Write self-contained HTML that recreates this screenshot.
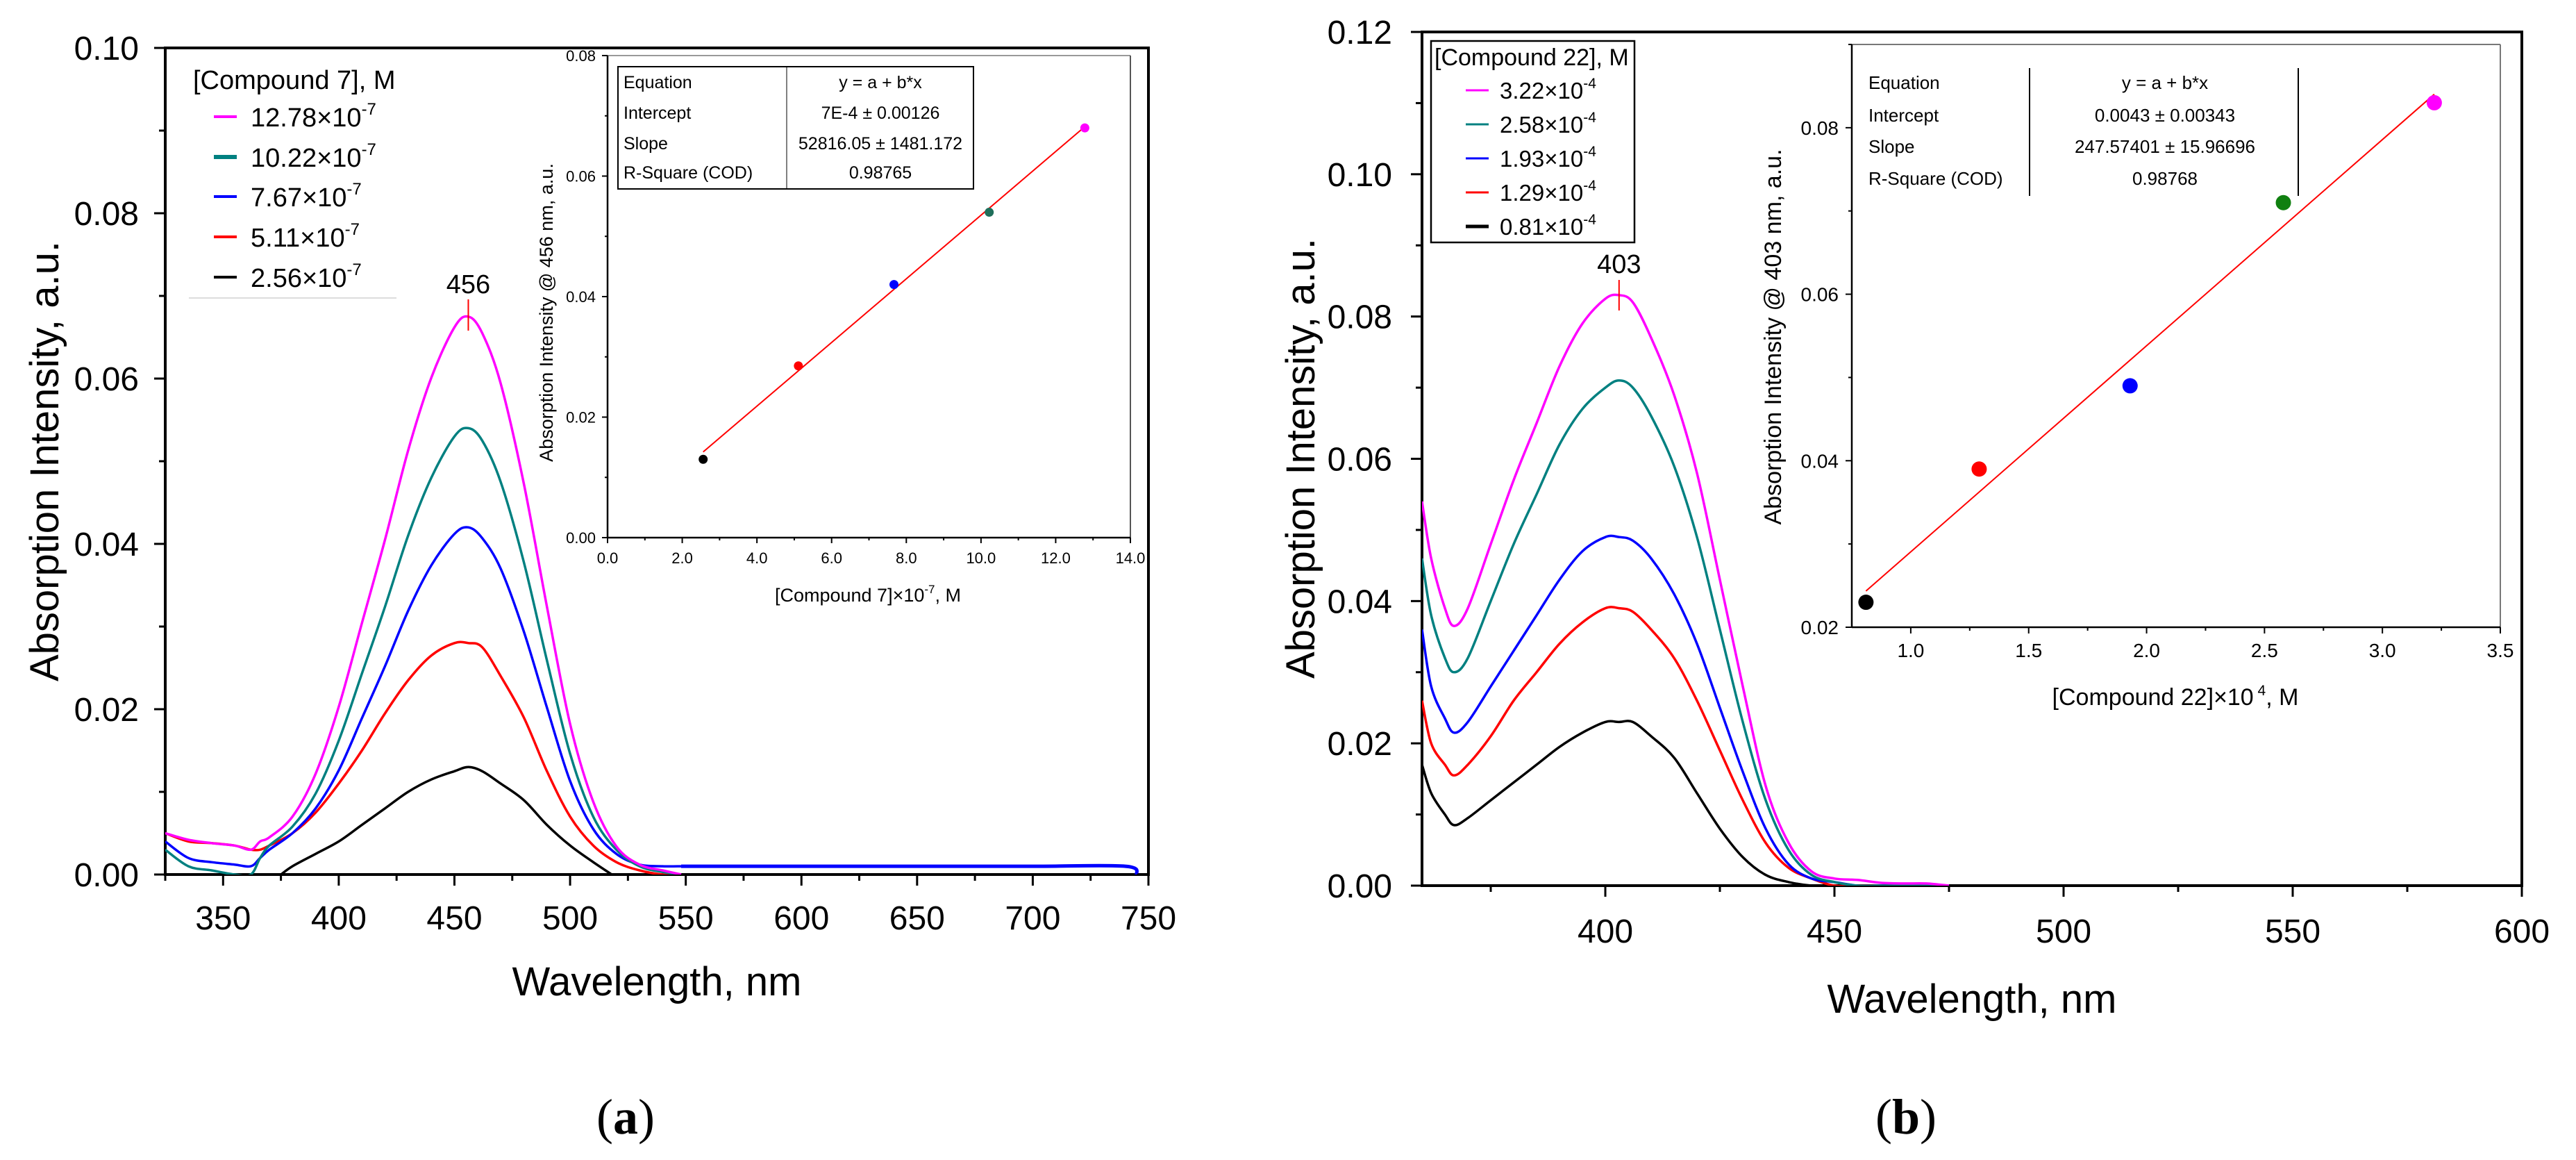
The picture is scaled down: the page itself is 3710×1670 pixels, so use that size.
<!DOCTYPE html>
<html><head><meta charset="utf-8"><style>
body{margin:0;background:#fff}
svg{display:block;font-family:"Liberation Sans",sans-serif}
</style></head><body>
<svg id="fig" width="3710" height="1670" viewBox="0 0 3710 1670" xmlns="http://www.w3.org/2000/svg">
<defs>
<clipPath id="clipA"><rect x="238" y="69" width="1416" height="1190"/></clipPath>
<clipPath id="clipB"><rect x="2048" y="46" width="1584" height="1229"/></clipPath>
</defs>
<g id="root"></g>
</svg>
<script>
// ---------- Panel (a) data ----------
const aWl = [325,335,345,355,362,366,370,380,390,400,410,420,430,440,450,456,462,470,480,490,500,510,520,530,540,548];
const aMagenta = [0.005,0.0042,0.0038,0.0035,0.003,0.004,0.0045,0.007,0.0122,0.0203,0.0304,0.0405,0.0513,0.0601,0.0662,0.0675,0.0655,0.0594,0.0473,0.0324,0.0182,0.0088,0.0034,0.0012,0.0005,0];
const aTeal = [0.003,0.001,0.0005,0,0,0.002,0.0035,0.0058,0.0098,0.0162,0.0243,0.0324,0.041,0.048,0.053,0.054,0.0525,0.0475,0.0378,0.0259,0.0146,0.007,0.003,0.001,0.0003,0];
const aBlue = [0.004,0.002,0.0015,0.0012,0.001,0.002,0.003,0.005,0.008,0.0126,0.0189,0.0252,0.0319,0.0374,0.0412,0.042,0.0407,0.037,0.0294,0.0202,0.0113,0.0055,0.0025,0.0012,0.001,0.001];
const aBlueTailWl = [548,600,650,700,740,745];
const aBlueTail = [0.001,0.001,0.001,0.001,0.001,0];
const aRed = [0.005,0.004,0.0038,0.0035,0.003,0.003,0.0035,0.005,0.0075,0.011,0.015,0.0195,0.0235,0.0265,0.028,0.028,0.0275,0.024,0.019,0.0125,0.007,0.0035,0.0015,0.0005,0,0];
const aBlackWl = [375,380,390,400,410,420,430,440,450,456,462,470,480,490,500,510,518];
const aBlack = [0,0.001,0.0025,0.004,0.006,0.008,0.01,0.0115,0.0125,0.013,0.0125,0.011,0.009,0.006,0.0035,0.0015,0];
const aXTicks = [350,400,450,500,550,600,650,700,750];
const aYTicks = [0,0.02,0.04,0.06,0.08,0.10];
const aLegend = ["12.78","10.22","7.67","5.11","2.56"];
// inset a
const aiConc = [2.56,5.11,7.67,10.22,12.78];
const aiAbs = [0.0130,0.0285,0.0420,0.0540,0.0680];
const aiFit = [0.0007,0.0052816];
const aiXTicks = [0,2,4,6,8,10,12,14];
const aiYTicks = [0,0.02,0.04,0.06,0.08];

// ---------- Panel (b) data ----------
const bWl = [360,362,365,367,370,375,380,385,390,395,400,403,406,410,415,420,425,430,435,440,445,450,455,460,465,470,475];
const bMagenta = [0.054,0.046,0.039,0.0365,0.039,0.048,0.057,0.065,0.073,0.079,0.0825,0.083,0.082,0.077,0.069,0.058,0.043,0.028,0.014,0.006,0.002,0.001,0.0008,0.0004,0.0003,0.0003,0];
const bTeal = [0.046,0.038,0.032,0.030,0.032,0.040,0.048,0.055,0.062,0.067,0.070,0.071,0.070,0.066,0.059,0.049,0.036,0.023,0.012,0.005,0.0015,0.0005,0,0,0,0,0];
const bBlue = [0.036,0.028,0.0235,0.0215,0.023,0.028,0.033,0.038,0.043,0.047,0.049,0.049,0.0485,0.046,0.041,0.034,0.025,0.016,0.008,0.003,0.001,0.0005,0,0,0,0,0];
const bRed = [0.026,0.020,0.017,0.0155,0.017,0.021,0.026,0.030,0.034,0.037,0.039,0.039,0.0385,0.036,0.032,0.026,0.019,0.012,0.006,0.0025,0.001,0,0,0,0,0,0];
const bBlack = [0.017,0.013,0.010,0.0085,0.0095,0.012,0.0145,0.017,0.0195,0.0215,0.023,0.023,0.023,0.021,0.018,0.013,0.008,0.004,0.0015,0.0005,0,0,0,0,0,0,0];
const bXTicks = [400,450,500,550,600];
const bYTicks = [0,0.02,0.04,0.06,0.08,0.10,0.12];
const bLegend = ["3.22","2.58","1.93","1.29","0.81"];
// inset b
const biConc = [0.81,1.29,1.93,2.58,3.22];
const biAbs = [0.023,0.039,0.049,0.071,0.083];
const biFit = [0.0043,0.0247574];
const biXTicks = [1.0,1.5,2.0,2.5,3.0,3.5];
const biYTicks = [0.02,0.04,0.06,0.08];

const NS = "http://www.w3.org/2000/svg";
const root = document.getElementById('root');
function el(tag, attrs, parent, text){
  const e = document.createElementNS(NS, tag);
  for (const k in attrs) e.setAttribute(k, attrs[k]);
  if (text !== undefined) e.textContent = text;
  (parent || root).appendChild(e);
  return e;
}
function lin(d0,d1,r0,r1){ return v => r0 + (v-d0)/(d1-d0)*(r1-r0); }

const COLORS = ["#ff00ff","#008080","#0000ff","#ff0000","#000000"];

function pathFrom(xs, ys, X, Y){
  const P = xs.map((x,i)=>[X(x),Y(ys[i])]);
  let d = 'M'+P[0][0].toFixed(1)+','+P[0][1].toFixed(1);
  for (let i=0;i<P.length-1;i++){
    const p0=P[Math.max(i-1,0)], p1=P[i], p2=P[i+1], p3=P[Math.min(i+2,P.length-1)];
    const c1=[p1[0]+(p2[0]-p0[0])/6, p1[1]+(p2[1]-p0[1])/6];
    const c2=[p2[0]-(p3[0]-p1[0])/6, p2[1]-(p3[1]-p1[1])/6];
    d += ' C'+c1[0].toFixed(1)+','+c1[1].toFixed(1)+' '+c2[0].toFixed(1)+','+c2[1].toFixed(1)+' '+p2[0].toFixed(1)+','+p2[1].toFixed(1);
  }
  return d;
}

// ================= PANEL A =================
const aX = lin(325,750,238,1654), aY = lin(0,0.1,1259,69);
const gA = el('g',{});


const frA = el('rect',{x:238,y:69,width:1416,height:1190,fill:'none',stroke:'#000','stroke-width':4},gA);


for (let w=325; w<=750; w+=25){
  const major = aXTicks.includes(w);
  el('line',{x1:aX(w),x2:aX(w),y1:1259,y2:1259+(major?16:9),stroke:'#000','stroke-width':3},gA);
}
aXTicks.forEach(t=>{
  const tx = el('text',{x:aX(t),y:1338,'font-size':48,'text-anchor':'middle'},gA,String(t));
  
  
});
for (let i=0;i<=10;i++){
  const v=i*0.01, major=i%2===0;
  el('line',{x1:238,x2:238-(major?16:9),y1:aY(v),y2:aY(v),stroke:'#000','stroke-width':3},gA);
}
aYTicks.forEach(t=>{
  const ty = el('text',{x:200,y:aY(t)+17,'font-size':48,'text-anchor':'end'},gA,t.toFixed(2));
  
  
});
const xtA = el('text',{x:946,y:1433,'font-size':58,'text-anchor':'middle'},gA,'Wavelength, nm');


const ytA = el('text',{x:0,y:0,'font-size':58,'text-anchor':'middle',transform:'translate(84,664) rotate(-90)'},gA,'Absorption Intensity, a.u.');



const aSeries = [aBlack,aRed,aBlue,aTeal,aMagenta];
const aNames = ['2.56','5.11','7.67','10.22','12.78'];
const aCols = ["#000000","#ff0000","#0000ff","#008080","#ff00ff"];
const cA = el('g',{'clip-path':'url(#clipA)'},gA);
aSeries.forEach((s,i)=>{
  const xs = s===aBlack ? aBlackWl : aWl;
  const p = el('path',{d:pathFrom(xs,s,aX,aY),fill:'none',stroke:aCols[i],'stroke-width':3.5,'stroke-linejoin':'round'},cA);
  
  
});
const tail = el('path',{d:pathFrom(aBlueTailWl,aBlueTail,aX,aY),fill:'none',stroke:'#0000ff','stroke-width':5},cA);


el('line',{x1:aX(456),x2:aX(456),y1:431,y2:476,stroke:'#ff0000','stroke-width':2},gA);
const pkA = el('text',{x:aX(456),y:422,'font-size':38,'text-anchor':'middle'},gA,'456');


const lgA = el('g',{},gA);


el('text',{x:278,y:128,'font-size':38},lgA,'[Compound 7], M');
const aLy = [168,226,283,341,399];
aLegend.forEach((lab,i)=>{
  const g = el('g',{},lgA);
  
  
  el('line',{x1:308,x2:341,y1:aLy[i],y2:aLy[i],stroke:COLORS[i],'stroke-width':i===1?6:4},g);
  const t = el('text',{x:361,y:aLy[i]+14,'font-size':38},g,lab+'×10');
  el('tspan',{'font-size':24,dy:-17},t,'-7');
});
el('line',{x1:272,x2:571,y1:429,y2:429,stroke:'#ddd','stroke-width':2},lgA);

// inset a
const iaX = lin(0,14,875,1628), iaY = lin(0,0.08,774,80);
const gIA = el('g',{},gA);


el('line',{x1:875,x2:1628,y1:80,y2:80,stroke:'#999','stroke-width':2},gIA);
el('line',{x1:1628,x2:1628,y1:80,y2:774,stroke:'#555','stroke-width':2},gIA);
el('line',{x1:875,x2:1628,y1:774,y2:774,stroke:'#000','stroke-width':2.5},gIA);
el('line',{x1:875,x2:875,y1:80,y2:774,stroke:'#000','stroke-width':2.5},gIA);
for (let v=0; v<=14.01; v+=1){
  const major = Math.round(v)%2===0;
  el('line',{x1:iaX(v),x2:iaX(v),y1:774,y2:774+(major?8:4),stroke:'#000','stroke-width':2},gIA);
}
aiXTicks.forEach(t=>el('text',{x:iaX(t),y:811,'font-size':22,'text-anchor':'middle'},gIA,t.toFixed(1)));
for (let i=0;i<=8;i++){
  const v=i*0.01, major=i%2===0;
  el('line',{x1:875,x2:875-(major?8:4),y1:iaY(v),y2:iaY(v),stroke:'#000','stroke-width':2},gIA);
}
aiYTicks.forEach(t=>el('text',{x:858,y:iaY(t)+8,'font-size':22,'text-anchor':'end'},gIA,t.toFixed(2)));
const iaxt = el('text',{x:1250,y:866,'font-size':27,'text-anchor':'middle'},gIA,'[Compound 7]×10');
el('tspan',{'font-size':17,dy:-12},iaxt,'-7');
el('tspan',{'font-size':27,dy:12},iaxt,', M');
el('text',{x:0,y:0,'font-size':27,'text-anchor':'middle',transform:'translate(796,450) rotate(-90)'},gIA,'Absorption Intensity @ 456 nm, a.u.');
const fitA = el('line',{x1:iaX(aiConc[0]),y1:iaY(aiFit[0]+aiFit[1]*aiConc[0]),x2:iaX(aiConc[4]),y2:iaY(aiFit[0]+aiFit[1]*aiConc[4]),stroke:'#ff0000','stroke-width':2},gIA);


const aiCols = ["#000000","#ff0000","#0000ff","#1f6e5a","#ff00ff"];
aiConc.forEach((c,i)=>{
  const pt = el('circle',{cx:iaX(c),cy:iaY(aiAbs[i]),r:6.5,fill:aiCols[i]},gIA);
  
  
});
const tbA = el('g',{},gIA);


el('rect',{x:890,y:96,width:512,height:176,fill:'#fff',stroke:'#000','stroke-width':2},tbA);
el('line',{x1:1133,x2:1133,y1:96,y2:272,stroke:'#000','stroke-width':1},tbA);
const tA1=['Equation','Intercept','Slope','R-Square (COD)'], tA2=['y = a + b*x','7E-4 ± 0.00126','52816.05 ± 1481.172','0.98765'], tAy=[118,162,206,248];
tA1.forEach((t,i)=>el('text',{x:898,y:tAy[i]+9,'font-size':25},tbA,t));
tA2.forEach((t,i)=>el('text',{x:1268,y:tAy[i]+9,'font-size':25,'text-anchor':'middle'},tbA,t));
const capA = el('text',{x:901,y:1632,'font-size':72,'text-anchor':'middle','font-family':'Liberation Serif, serif'},gA,'(');
el('tspan',{'font-weight':'bold'},capA,'a');
el('tspan',{},capA,')');



// ================= PANEL B =================
const bX = lin(360,600,2048,3632), bY = lin(0,0.12,1275,46);
const gB = el('g',{});


const frB = el('rect',{x:2048,y:46,width:1584,height:1229,fill:'none',stroke:'#000','stroke-width':4},gB);


for (let w=375; w<=600; w+=25){
  const major = bXTicks.includes(w);
  el('line',{x1:bX(w),x2:bX(w),y1:1275,y2:1275+(major?16:9),stroke:'#000','stroke-width':3},gB);
}
bXTicks.forEach(t=>{
  const tx = el('text',{x:bX(t),y:1357,'font-size':48,'text-anchor':'middle'},gB,String(t));
  
  
});
for (let i=0;i<=12;i++){
  const v=i*0.01, major=i%2===0;
  el('line',{x1:2048,x2:2048-(major?16:9),y1:bY(v),y2:bY(v),stroke:'#000','stroke-width':3},gB);
}
bYTicks.forEach(t=>{
  const ty = el('text',{x:2005,y:bY(t)+17,'font-size':48,'text-anchor':'end'},gB,t.toFixed(2));
  
  
});
const xtB = el('text',{x:2840,y:1458,'font-size':58,'text-anchor':'middle'},gB,'Wavelength, nm');


const ytB = el('text',{x:0,y:0,'font-size':58,'text-anchor':'middle',transform:'translate(1893,660) rotate(-90)'},gB,'Absorption Intensity, a.u.');


const bSeries=[bBlack,bRed,bBlue,bTeal,bMagenta], bNames=['0.81','1.29','1.93','2.58','3.22'];
const cB = el('g',{'clip-path':'url(#clipB)'},gB);
bSeries.forEach((s,i)=>{
  const p = el('path',{d:pathFrom(bWl,s,bX,bY),fill:'none',stroke:aCols[i],'stroke-width':3.5,'stroke-linejoin':'round'},cB);
  
  
});
el('line',{x1:bX(403),x2:bX(403),y1:403,y2:447,stroke:'#ff0000','stroke-width':2},gB);
const pkB = el('text',{x:bX(403),y:393,'font-size':38,'text-anchor':'middle'},gB,'403');


const lgB = el('g',{},gB);


el('rect',{x:2061,y:59,width:293,height:290,fill:'#fff',stroke:'#000','stroke-width':2.5},lgB);
el('text',{x:2066,y:94,'font-size':34},lgB,'[Compound 22], M');
const bLy=[130,179,228,277,326];
bLegend.forEach((lab,i)=>{
  const g = el('g',{},lgB);
  
  
  el('line',{x1:2111,x2:2144,y1:bLy[i],y2:bLy[i],stroke:COLORS[i],'stroke-width':i===4?5:3},g);
  const t = el('text',{x:2160,y:bLy[i]+12,'font-size':33},g,lab+'×10');
  el('tspan',{'font-size':21,dy:-15},t,'-4');
});
// inset b
const ibX = lin(0.75,3.5,2667,3601), ibY = lin(0.02,0.09,903,64);
const gIB = el('g',{},gB);


el('line',{x1:2667,x2:3601,y1:64,y2:64,stroke:'#777','stroke-width':2},gIB);
el('line',{x1:3601,x2:3601,y1:64,y2:903,stroke:'#777','stroke-width':2},gIB);
el('line',{x1:2667,x2:3601,y1:903,y2:903,stroke:'#000','stroke-width':2.5},gIB);
el('line',{x1:2667,x2:2667,y1:64,y2:903,stroke:'#000','stroke-width':2.5},gIB);
for (let k=1;k<=11;k++){
  const v=0.75+k*0.25, major=k%2===1;
  el('line',{x1:ibX(v),x2:ibX(v),y1:903,y2:903+(major?9:5),stroke:'#000','stroke-width':2},gIB);
}
biXTicks.forEach(t=>el('text',{x:ibX(t),y:946,'font-size':28,'text-anchor':'middle'},gIB,t.toFixed(1)));
for (let i=2;i<=9;i++){
  const v=i*0.01, major=i%2===0;
  el('line',{x1:2667,x2:2667-(major?9:5),y1:ibY(v),y2:ibY(v),stroke:'#000','stroke-width':2},gIB);
}
biYTicks.forEach(t=>el('text',{x:2648,y:ibY(t)+10,'font-size':28,'text-anchor':'end'},gIB,t.toFixed(2)));
const ibxt = el('text',{x:3133,y:1015,'font-size':34,'text-anchor':'middle'},gIB,'[Compound 22]×10');
el('tspan',{'font-size':21,dy:-14},ibxt,' 4');
el('tspan',{'font-size':34,dy:14},ibxt,', M');
el('text',{x:0,y:0,'font-size':34,'text-anchor':'middle',transform:'translate(2565,485) rotate(-90)'},gIB,'Absorption Intensity @ 403 nm, a.u.');
const fitB = el('line',{x1:ibX(biConc[0]),y1:ibY(biFit[0]+biFit[1]*biConc[0]),x2:ibX(biConc[4]),y2:ibY(biFit[0]+biFit[1]*biConc[4]),stroke:'#ff0000','stroke-width':2},gIB);


const biCols=["#000000","#ff0000","#0000ff","#108010","#ff00ff"];
biConc.forEach((c,i)=>{
  const pt = el('circle',{cx:ibX(c),cy:ibY(biAbs[i]),r:11,fill:biCols[i]},gIB);
  
  
});
const tbB = el('g',{},gIB);


el('line',{x1:2923,x2:2923,y1:98,y2:282,stroke:'#000','stroke-width':2},tbB);
el('line',{x1:3310,x2:3310,y1:98,y2:282,stroke:'#000','stroke-width':2},tbB);
const tB1=['Equation','Intercept','Slope','R-Square (COD)'], tB2=['y = a + b*x','0.0043 ± 0.00343','247.57401 ± 15.96696','0.98768'], tBy=[119,166,211,257];
tB1.forEach((t,i)=>el('text',{x:2691,y:tBy[i]+9,'font-size':26},tbB,t));
tB2.forEach((t,i)=>el('text',{x:3118,y:tBy[i]+9,'font-size':26,'text-anchor':'middle'},tbB,t));
const capB = el('text',{x:2745,y:1632,'font-size':72,'text-anchor':'middle','font-family':'Liberation Serif, serif'},gB,'(');
el('tspan',{'font-weight':'bold'},capB,'b');
el('tspan',{},capB,')');


</script>
</body></html>
